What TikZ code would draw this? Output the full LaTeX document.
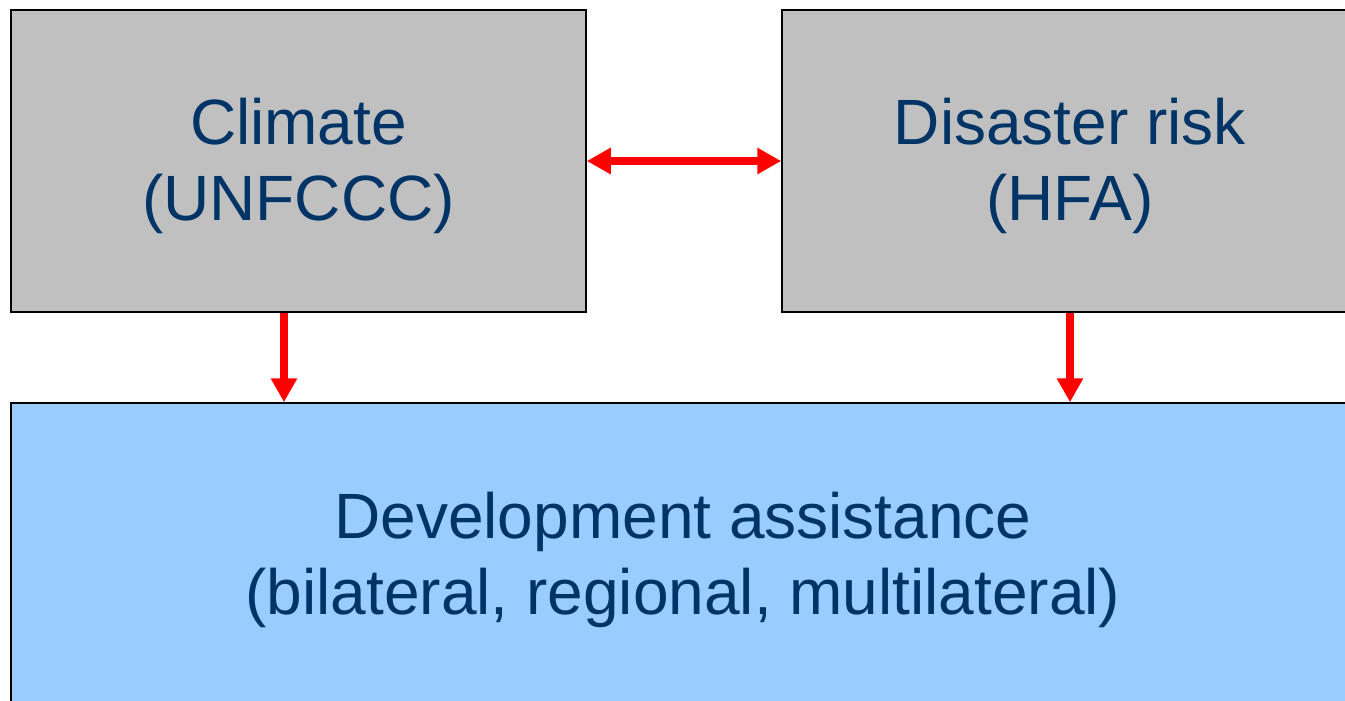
\documentclass[tikz,border=0pt]{standalone}
\usepackage{fontspec}
\setmainfont{Liberation Sans}
\usetikzlibrary{arrows.meta}
\definecolor{boxgrey}{HTML}{C0C0C0}
\definecolor{boxblue}{HTML}{99CCFF}
\definecolor{textblue}{HTML}{003366}
\begin{document}
\begin{tikzpicture}[x=1pt,y=-1pt,
	box/.style={draw=black,line width=1.5pt,inner sep=0pt},
	boxtext/.style={text=textblue,align=center,inner sep=0pt,font=\fontsize{64}{76}\selectfont},
	link/.style={red,line width=8pt,-{Triangle[length=24pt,width=25pt]}},
	twolink/.style={red,line width=8pt,{Triangle[length=24pt,width=25pt]}-{Triangle[length=24pt,width=25pt]}}]
	\clip (0,0) rectangle (1345,701);
	\node[box,fill=boxgrey,minimum width=575pt,minimum height=302pt] (climate) at (298.5,161) {};
	\node[box,fill=boxgrey,minimum width=576pt,minimum height=302pt] (disaster) at (1070,161) {};
	\node[box,fill=boxblue,minimum width=1344pt,minimum height=306pt] (dev) at (683,556) {};
	\node[boxtext] (climate text) at ([yshift=-5pt]climate.center) {Climate\\(UNFCCC)};
	\node[boxtext] (disaster text) at ([yshift=-5pt]disaster.center) {Disaster risk\\(HFA)};
	\node[boxtext] (dev text) at ([yshift=-4pt]dev.center) {Development assistance\\(bilateral, regional, multilateral)};
	\draw[twolink] (climate.east) -- (disaster.west);
	\draw[link] ([xshift=-14.5pt]climate.south) -- ([xshift=-14.5pt]climate.south |- dev.north);
	\draw[link] (disaster.south) -- (disaster.south |- dev.north);
\end{tikzpicture}
\end{document}
